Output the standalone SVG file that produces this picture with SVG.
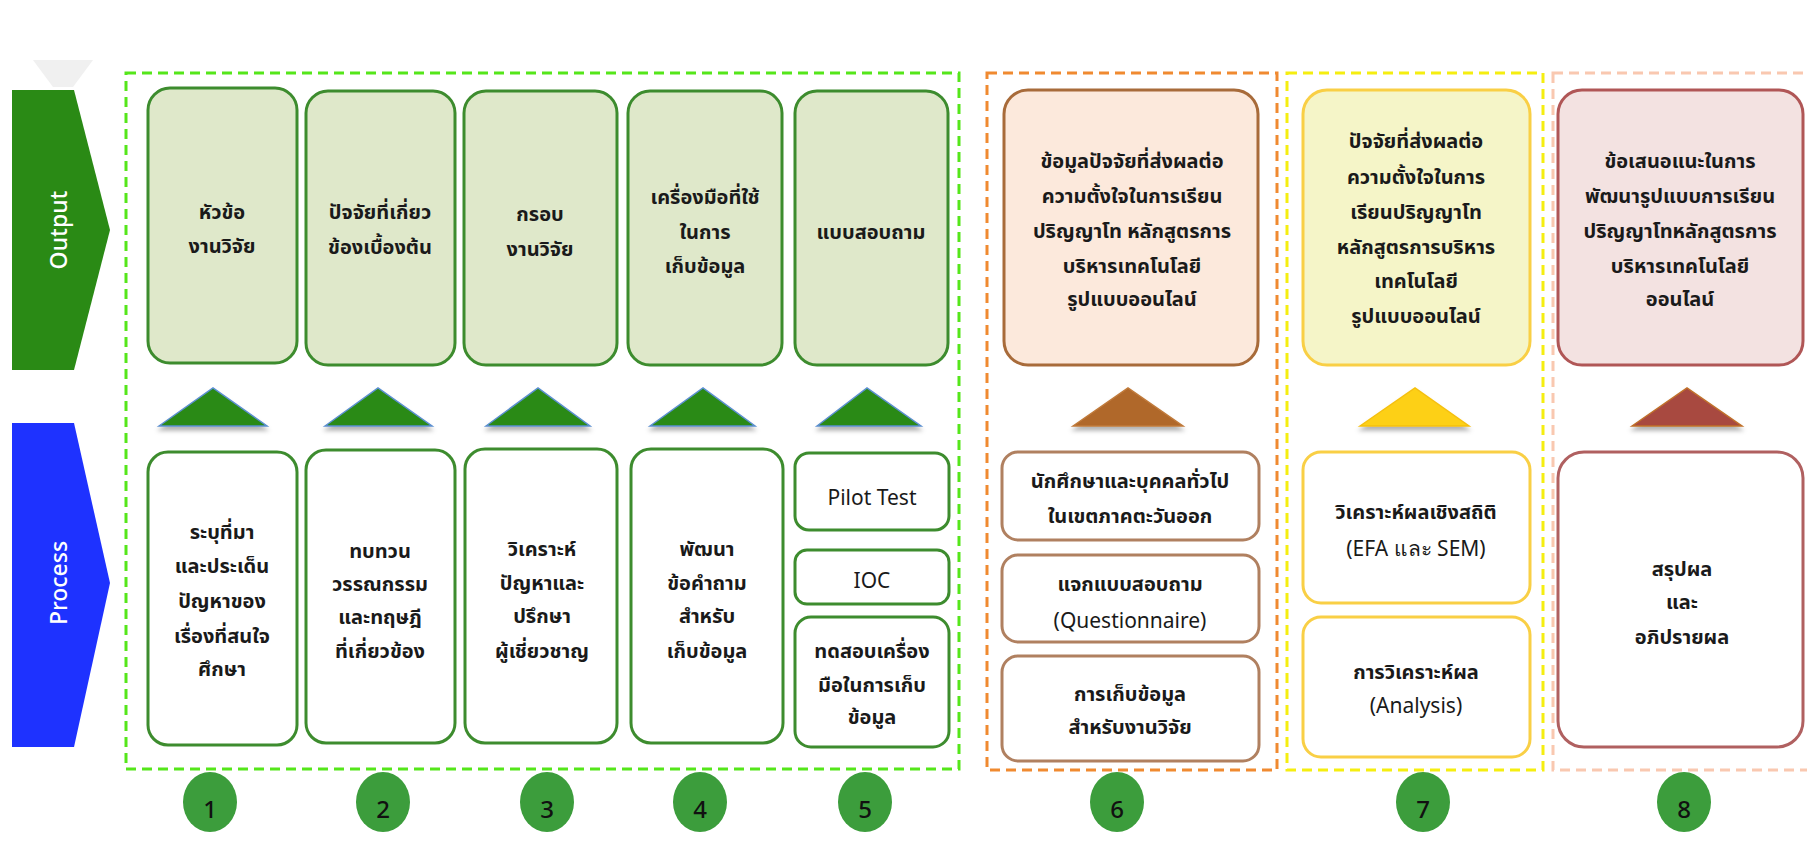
<svg xmlns="http://www.w3.org/2000/svg" width="1807" height="842" viewBox="0 0 1807 842">
<style>
.t{font-family:"Noto Sans Thai","Noto Sans","DejaVu Sans",sans-serif;font-size:20px;font-weight:bold;fill:#1a1a1a;text-anchor:middle;dominant-baseline:central}
.e{font-family:"Noto Sans","DejaVu Sans",sans-serif;font-size:21px;font-weight:normal;fill:#1a1a1a;text-anchor:middle;dominant-baseline:central}
.lbl{font-family:"Noto Sans","DejaVu Sans",sans-serif;font-size:23px;font-weight:500;fill:#ffffff;text-anchor:middle;dominant-baseline:central}
.num{font-family:"Noto Sans","DejaVu Sans",sans-serif;font-size:24px;font-weight:500;fill:#111111;text-anchor:middle;dominant-baseline:central}
.gO{fill:#dfe8ca;stroke:#3d8c2e;stroke-width:3}
.gP{fill:#ffffff;stroke:#3d8c2e;stroke-width:3}
.oO{fill:#fce9dc;stroke:#a86b3a;stroke-width:3}
.oP{fill:#ffffff;stroke:#b08060;stroke-width:3}
.yO{fill:#f5f5c8;stroke:#f9cf45;stroke-width:3}
.yP{fill:#ffffff;stroke:#f9cf45;stroke-width:3}
.rO{fill:#f3e2e1;stroke:#b05656;stroke-width:3}
.rP{fill:#ffffff;stroke:#b06060;stroke-width:3}
.circ{fill:#3c9d3c}
.dash{fill:none;stroke-width:3;stroke-dasharray:10 6}
</style>
<defs>
<filter id="sh" x="-20%" y="-20%" width="140%" height="160%">
<feDropShadow dx="0" dy="4" stdDeviation="2" flood-color="#000" flood-opacity="0.3"/>
</filter>
</defs>
<rect x="0" y="0" width="1807" height="842" fill="#ffffff"/>

<g id="side-labels">
<polygon points="33,60 93,60 73,87 53,87" fill="#f0f0f0"/>
<g id="output-label">
<polygon points="12,90 74,90 110,230 74,370 12,370" fill="#2a8a15"/>
<text class="lbl" transform="translate(58,230) rotate(-90)">Output</text>
</g>
<g id="process-label">
<polygon points="12,423 74,423 110,583 74,747 12,747" fill="#1e32ff"/>
<text class="lbl" transform="translate(58,583) rotate(-90)">Process</text>
</g>
</g>

<g id="groups">
<rect class="dash" x="126" y="73" width="833" height="696" stroke="#55e61a"/>
<rect class="dash" x="987" y="73" width="290" height="697" stroke="#f08a30"/>
<rect class="dash" x="1287" y="73" width="256" height="697" stroke="#f5ee10"/>
<rect class="dash" x="1553" y="73" width="260" height="697" stroke="#f9c8b0" stroke-width="2"/>
</g>

<g id="connectors">
<polygon points="159,426 213,388 267,426" fill="#2a8a17" stroke="#5b8fd0" stroke-width="1.5" filter="url(#sh)"/>
<polygon points="325,426 378,388 432,426" fill="#2a8a17" stroke="#5b8fd0" stroke-width="1.5" filter="url(#sh)"/>
<polygon points="486,426 538,388 590,426" fill="#2a8a17" stroke="#5b8fd0" stroke-width="1.5" filter="url(#sh)"/>
<polygon points="650,426 703,388 755,426" fill="#2a8a17" stroke="#5b8fd0" stroke-width="1.5" filter="url(#sh)"/>
<polygon points="817,426 867,388 921,426" fill="#2a8a17" stroke="#5b8fd0" stroke-width="1.5" filter="url(#sh)"/>
<polygon points="1073,426 1128,388 1183,426" fill="#b0672a" stroke="#c07a3a" stroke-width="1.5" filter="url(#sh)"/>
<polygon points="1360,426 1415,388 1469,426" fill="#fdd017" stroke="#f5c010" stroke-width="1.5" filter="url(#sh)"/>
<polygon points="1632,426 1687,388 1742,426" fill="#a84a40" stroke="#c0702a" stroke-width="1.5" filter="url(#sh)"/>
</g>

<g id="out1"><rect class="gO" x="148" y="88" width="149" height="275" rx="22"/>
<text class="t" x="222" y="213">หัวข้อ</text><text class="t" x="222" y="247">งานวิจัย</text></g>
<g id="out2"><rect class="gO" x="306" y="91" width="149" height="274" rx="22"/>
<text class="t" x="380" y="213">ปัจจัยที่เกี่ยว</text><text class="t" x="380" y="248">ข้องเบื้องต้น</text></g>
<g id="out3"><rect class="gO" x="464" y="91" width="153" height="274" rx="22"/>
<text class="t" x="540" y="215">กรอบ</text><text class="t" x="540" y="250">งานวิจัย</text></g>
<g id="out4"><rect class="gO" x="628" y="91" width="154" height="274" rx="22"/>
<text class="t" x="705" y="198">เครื่องมือที่ใช้</text><text class="t" x="705" y="233">ในการ</text><text class="t" x="705" y="267">เก็บข้อมูล</text></g>
<g id="out5"><rect class="gO" x="795" y="91" width="153" height="274" rx="22"/>
<text class="t" x="871" y="233">แบบสอบถาม</text></g>
<g id="out6"><rect class="oO" x="1004" y="90" width="254" height="275" rx="24"/>
<text class="t" x="1132" y="162">ข้อมูลปัจจัยที่ส่งผลต่อ</text><text class="t" x="1132" y="197">ความตั้งใจในการเรียน</text><text class="t" x="1132" y="232">ปริญญาโท หลักสูตรการ</text><text class="t" x="1132" y="267">บริหารเทคโนโลยี</text><text class="t" x="1132" y="300">รูปแบบออนไลน์</text></g>
<g id="out7"><rect class="yO" x="1303" y="90" width="227" height="275" rx="24"/>
<text class="t" x="1416" y="142">ปัจจัยที่ส่งผลต่อ</text><text class="t" x="1416" y="178">ความตั้งใจในการ</text><text class="t" x="1416" y="213">เรียนปริญญาโท</text><text class="t" x="1416" y="248">หลักสูตรการบริหาร</text><text class="t" x="1416" y="282">เทคโนโลยี</text><text class="t" x="1416" y="317">รูปแบบออนไลน์</text></g>
<g id="out8"><rect class="rO" x="1558" y="90" width="245" height="275" rx="24"/>
<text class="t" x="1680" y="162">ข้อเสนอแนะในการ</text><text class="t" x="1680" y="197">พัฒนารูปแบบการเรียน</text><text class="t" x="1680" y="232">ปริญญาโทหลักสูตรการ</text><text class="t" x="1680" y="267">บริหารเทคโนโลยี</text><text class="t" x="1680" y="300">ออนไลน์</text></g>

<g id="proc1"><rect class="gP" x="148" y="452" width="149" height="293" rx="20"/>
<text class="t" x="222" y="533">ระบุที่มา</text><text class="t" x="222" y="567">และประเด็น</text><text class="t" x="222" y="602">ปัญหาของ</text><text class="t" x="222" y="637">เรื่องที่สนใจ</text><text class="t" x="222" y="670">ศึกษา</text></g>
<g id="proc2"><rect class="gP" x="306" y="450" width="149" height="293" rx="20"/>
<text class="t" x="380" y="552">ทบทวน</text><text class="t" x="380" y="585">วรรณกรรม</text><text class="t" x="380" y="618">และทฤษฎี</text><text class="t" x="380" y="652">ที่เกี่ยวข้อง</text></g>
<g id="proc3"><rect class="gP" x="465" y="449" width="152" height="294" rx="20"/>
<text class="t" x="542" y="550">วิเคราะห์</text><text class="t" x="542" y="584">ปัญหาและ</text><text class="t" x="542" y="617">ปรึกษา</text><text class="t" x="542" y="652">ผู้เชี่ยวชาญ</text></g>
<g id="proc4"><rect class="gP" x="631" y="449" width="152" height="294" rx="20"/>
<text class="t" x="707" y="550">พัฒนา</text><text class="t" x="707" y="584">ข้อคำถาม</text><text class="t" x="707" y="617">สำหรับ</text><text class="t" x="707" y="652">เก็บข้อมูล</text></g>
<g id="proc5a"><rect class="gP" x="795" y="453" width="154" height="77" rx="14"/>
<text class="e" x="872" y="497">Pilot Test</text></g>
<g id="proc5b"><rect class="gP" x="795" y="550" width="154" height="54" rx="12"/>
<text class="e" x="872" y="580">IOC</text></g>
<g id="proc5c"><rect class="gP" x="795" y="617" width="154" height="130" rx="16"/>
<text class="t" x="872" y="652">ทดสอบเครื่อง</text><text class="t" x="872" y="686">มือในการเก็บ</text><text class="t" x="872" y="718">ข้อมูล</text></g>
<g id="proc6a"><rect class="oP" x="1002" y="452" width="257" height="88" rx="16"/>
<text class="t" x="1130" y="482">นักศึกษาและบุคคลทั่วไป</text><text class="t" x="1130" y="517">ในเขตภาคตะวันออก</text></g>
<g id="proc6b"><rect class="oP" x="1002" y="555" width="257" height="87" rx="16"/>
<text class="t" x="1130" y="585">แจกแบบสอบถาม</text><text class="e" x="1130" y="620">(Questionnaire)</text></g>
<g id="proc6c"><rect class="oP" x="1002" y="656" width="257" height="105" rx="16"/>
<text class="t" x="1130" y="695">การเก็บข้อมูล</text><text class="t" x="1130" y="728">สำหรับงานวิจัย</text></g>
<g id="proc7a"><rect class="yP" x="1303" y="452" width="227" height="151" rx="18"/>
<text class="t" x="1416" y="513">วิเคราะห์ผลเชิงสถิติ</text><text class="e" x="1416" y="548">(EFA และ SEM)</text></g>
<g id="proc7b"><rect class="yP" x="1303" y="617" width="227" height="140" rx="18"/>
<text class="t" x="1416" y="673">การวิเคราะห์ผล</text><text class="e" x="1416" y="705">(Analysis)</text></g>
<g id="proc8"><rect class="rP" x="1558" y="452" width="245" height="295" rx="26"/>
<text class="t" x="1682" y="570">สรุปผล</text><text class="t" x="1682" y="603">และ</text><text class="t" x="1682" y="638">อภิปรายผล</text></g>

<g id="step1"><ellipse class="circ" cx="210" cy="802" rx="27" ry="30"/><text class="num" x="210" y="808">1</text></g>
<g id="step2"><ellipse class="circ" cx="383" cy="802" rx="27" ry="30"/><text class="num" x="383" y="808">2</text></g>
<g id="step3"><ellipse class="circ" cx="547" cy="802" rx="27" ry="30"/><text class="num" x="547" y="808">3</text></g>
<g id="step4"><ellipse class="circ" cx="700" cy="802" rx="27" ry="30"/><text class="num" x="700" y="808">4</text></g>
<g id="step5"><ellipse class="circ" cx="865" cy="802" rx="27" ry="30"/><text class="num" x="865" y="808">5</text></g>
<g id="step6"><ellipse class="circ" cx="1117" cy="802" rx="27" ry="30"/><text class="num" x="1117" y="808">6</text></g>
<g id="step7"><ellipse class="circ" cx="1423" cy="802" rx="27" ry="30"/><text class="num" x="1423" y="808">7</text></g>
<g id="step8"><ellipse class="circ" cx="1684" cy="802" rx="27" ry="30"/><text class="num" x="1684" y="808">8</text></g>
</svg>
